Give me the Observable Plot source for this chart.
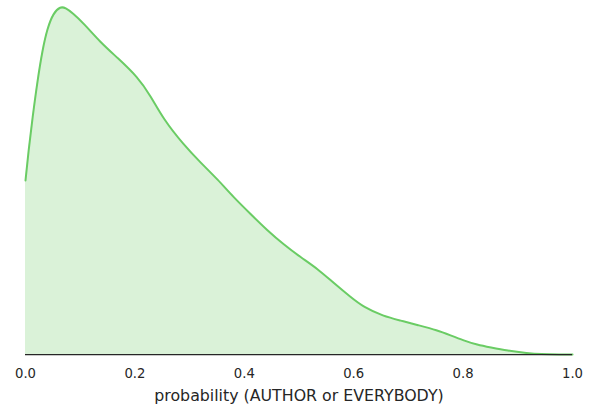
<!DOCTYPE html>
<html><head><meta charset="utf-8">
<script src="https://cdn.jsdelivr.net/npm/d3@7"></script>
<script src="https://cdn.jsdelivr.net/npm/@observablehq/plot@0.6"></script>
<style>body{margin:0;background:#fff} svg{display:block}</style>
</head><body><div id="chart"></div>
<script>
const probability = [0.000,0.0055,0.0128,0.0219,0.031,0.040,0.051,0.064,0.073,0.086,0.106,0.137,0.168,0.205,0.229,0.252,0.289,0.320,0.351,0.380,0.411,0.442,0.472,0.503,0.534,0.563,0.594,0.618,0.654,0.686,0.717,0.753,0.777,0.801,0.826,0.850,0.881,0.918,0.941,0.978,1.000];
const density = [1.36,1.59,1.85,2.14,2.38,2.55,2.67,2.72,2.71,2.67,2.59,2.44,2.32,2.17,2.02,1.84,1.64,1.50,1.37,1.23,1.10,0.97,0.86,0.76,0.67,0.56,0.45,0.37,0.30,0.265,0.23,0.19,0.15,0.11,0.075,0.055,0.03,0.01,0.002,0,0];
const xTicks = [0, 0.2, 0.4, 0.6, 0.8, 1.0];
const xLabel = "probability (AUTHOR or EVERYBODY)";
const data = probability.map((p, i) => ({p, d: density[i]}));
const green = "#6acc64";
const chart = Plot.plot({
  width: 597, height: 406,
  marginLeft: 25, marginRight: 25, marginTop: 6, marginBottom: 52,
  style: {fontFamily: "DejaVu Sans", fontSize: "13px", color: "#262626", background: "#fff"},
  x: {domain: [0, 1]},
  y: {domain: [0, 2.72], axis: null},
  marks: [
    Plot.areaY(data, {x: "p", y: "d", fill: green, fillOpacity: 0.25, curve: "basis"}),
    Plot.lineY(data, {x: "p", y: "d", stroke: green, strokeWidth: 2, curve: "basis"}),
    Plot.ruleY([0], {stroke: "#262626", strokeWidth: 1.25}),
    Plot.axisX({ticks: xTicks, tickFormat: d3.format(".1f"), tickSize: 0, tickPadding: 14, label: null, fill: "#262626", fontSize: 13.2}),
    Plot.text([xLabel], {frameAnchor: "bottom", dy: 41, text: d => d, fontSize: 15.8, fill: "#262626", lineAnchor: "middle"})
  ]
});
document.getElementById("chart").appendChild(chart);
</script>
</body></html>
